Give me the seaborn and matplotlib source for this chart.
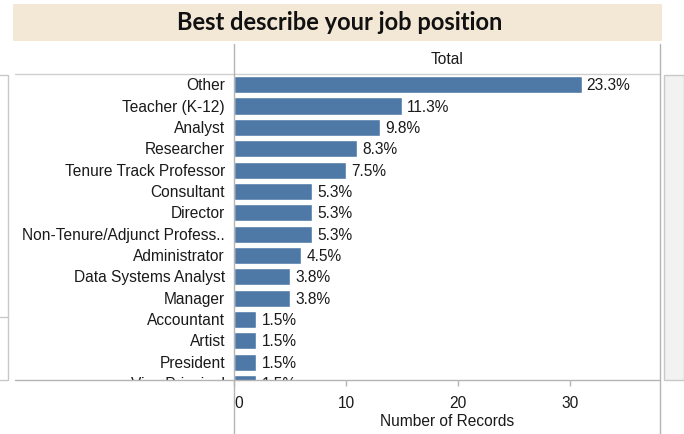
import pandas as pd
import matplotlib.pyplot as plt
import matplotlib.patches as patches
from matplotlib.lines import Line2D
import matplotlib.transforms as mtrans
import seaborn as sbn

CATEGORIES = ['Other', 'Teacher (K-12)', 'Analyst', 'Researcher', 'Tenure Track Professor',
              'Consultant', 'Director', 'Non-Tenure/Adjunct Profess..', 'Administrator',
              'Data Systems Analyst', 'Manager', 'Accountant', 'Artist', 'President',
              'Vice Principal']
RECORDS = [31, 15, 13, 11, 10, 7, 7, 7, 6, 5, 5, 2, 2, 2, 2]
PERCENT = ['23.3%', '11.3%', '9.8%', '8.3%', '7.5%', '5.3%', '5.3%', '5.3%', '4.5%',
           '3.8%', '3.8%', '1.5%', '1.5%', '1.5%', '1.5%']
X_TICKS = [0, 10, 20, 30]

BAR_COLOR = '#4e79a7'
LINE_COLOR = '#b4b4b4'
TEXT_COLOR = '#1a1a1a'
FS = 11.2

sbn.set_style('white')
plt.rcParams['font.family'] = ['Liberation Sans', 'DejaVu Sans']

W, H = 684, 435


def fx(px):
    return px / W


def fy(py):
    return 1 - py / H


fig = plt.figure(figsize=(W / 100, H / 100), dpi=100)
ax = fig.add_axes([fx(234), fy(381), fx(660) - fx(234), fy(75) - fy(381)])
lab = fig.add_axes([fx(15), fy(381), fx(234) - fx(15), fy(75) - fy(381)])

df = pd.DataFrame({'Position': CATEGORIES, 'Number of Records': RECORDS})
sbn.barplot(data=df, x='Number of Records', y='Position', color=BAR_COLOR, saturation=1,
            width=0.8, orient='h', ax=ax)

ylim = (13.83, -0.5)
ax.set_ylim(*ylim)
ax.set_xlim(0, 38)
ax.set_yticks([])
ax.set_ylabel('')
ax.set_xlabel('')
ax.set_xticks(X_TICKS)
ax.tick_params(axis='x', length=4, width=1, color=LINE_COLOR, labelsize=FS,
               labelcolor=TEXT_COLOR, pad=7, bottom=True)
for s in ax.spines.values():
    s.set_visible(False)
# Tableau nudges the zero label off the axis line
first = ax.get_xticklabels()[0]
first.set_transform(first.get_transform() + mtrans.ScaledTranslation(0.05, 0, fig.dpi_scale_trans))

for i, (v, p) in enumerate(zip(RECORDS, PERCENT)):
    ax.text(v + 0.45, i, p, va='center', ha='left', fontsize=FS, color=TEXT_COLOR,
            clip_on=True)

# category labels in their own panel so the last row gets clipped like the original
lab.set_ylim(*ylim)
lab.set_xlim(0, 1)
lab.axis('off')
for i, c in enumerate(CATEGORIES):
    lab.text(0.959, i, c, va='center', ha='right', fontsize=FS, color=TEXT_COLOR,
             clip_on=True)

# title banner
fig.add_artist(patches.Rectangle((fx(13), fy(42)), fx(662) - fx(13), fy(5) - fy(42),
                                 transform=fig.transFigure, facecolor='#f3e7d6',
                                 edgecolor='none', zorder=0))
fig.text(fx(340), fy(23), 'Best describe your job position', ha='center', va='center',
         fontsize=17, fontweight='bold', family=['Lato', 'DejaVu Sans'], color='#111111')

fig.text(fx(447), fy(59), 'Total', ha='center', va='center', fontsize=FS, color=TEXT_COLOR)
fig.text(fx(447), fy(422), 'Number of Records', ha='center', va='center', fontsize=FS,
         color=TEXT_COLOR)

# table grid lines
for (x0, y0, x1, y1, col) in [(15, 75, 660, 75, '#d0d0d0'),
                              (15, 381, 660, 381, LINE_COLOR),
                              (233.5, 45, 233.5, 435, LINE_COLOR),
                              (660, 45, 660, 435, LINE_COLOR)]:
    fig.add_artist(Line2D([fx(x0), fx(x1)], [fy(y0), fy(y1)], transform=fig.transFigure,
                          color=col, linewidth=1))

# side panels
fig.add_artist(patches.Rectangle((fx(664), fy(381)), fx(684) - fx(664), fy(76) - fy(381),
                                 transform=fig.transFigure, facecolor='#f2f2f2',
                                 edgecolor='#c8c8c8', linewidth=1))
fig.add_artist(patches.Rectangle((fx(-2), fy(381)), fx(8) + 2 / W, fy(76) - fy(381),
                                 transform=fig.transFigure, facecolor='none',
                                 edgecolor='#c8c8c8', linewidth=1))
fig.add_artist(Line2D([fx(0), fx(8)], [fy(318), fy(318)], transform=fig.transFigure,
                      color='#c8c8c8', linewidth=1))

fig.savefig('out.png', dpi=100)
